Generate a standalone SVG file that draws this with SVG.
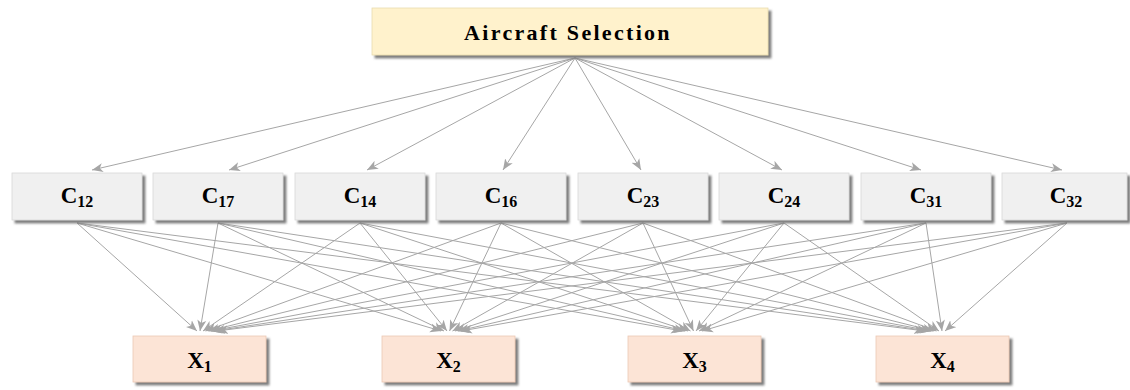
<svg xmlns="http://www.w3.org/2000/svg" width="1130" height="390" viewBox="0 0 1130 390">
<defs>
<filter id="sh" x="-5%" y="-10%" width="115%" height="130%">
<feDropShadow dx="3" dy="3" stdDeviation="0.8" flood-color="#707070" flood-opacity="0.9"/>
</filter>
<marker id="ah" markerUnits="userSpaceOnUse" markerWidth="12" markerHeight="10" viewBox="0 0 12 10" refX="11" refY="5" orient="auto">
<path d="M0,0.5 L11,5 L0,9.5 L3,5 Z" fill="#a6a6a6"/>
</marker>
<style>
.top{fill:#fff2cc;stroke:#e8dcb0;stroke-width:0.8;filter:url(#sh)}
.cb{fill:#f0f0f0;stroke:#d8d8d8;stroke-width:0.8;filter:url(#sh)}
.xb{fill:#fce4d6;stroke:#ecc9b4;stroke-width:0.8;filter:url(#sh)}
.t{font-family:"Liberation Serif","Times New Roman",serif;font-weight:bold;fill:#000}
.lbl{font-size:23px}
.sub{font-size:16px}
.c line{stroke:#a6a6a6;stroke-width:1;marker-end:url(#ah)}
</style>
</defs>
<g id="connectors" class="c">
<line x1="575" y1="58" x2="92" y2="170"/>
<line x1="575" y1="58" x2="229" y2="170"/>
<line x1="575" y1="58" x2="367" y2="170"/>
<line x1="575" y1="58" x2="503" y2="170"/>
<line x1="575" y1="58" x2="641" y2="170"/>
<line x1="575" y1="58" x2="782" y2="170"/>
<line x1="575" y1="58" x2="921" y2="170"/>
<line x1="575" y1="58" x2="1062" y2="170"/>

<line x1="77" y1="223" x2="197" y2="331"/>
<line x1="77" y1="223" x2="441" y2="331"/>
<line x1="77" y1="223" x2="682" y2="331"/>
<line x1="77" y1="223" x2="925" y2="331"/>
<line x1="218" y1="223" x2="200" y2="331"/>
<line x1="218" y1="223" x2="444" y2="331"/>
<line x1="218" y1="223" x2="685" y2="331"/>
<line x1="218" y1="223" x2="928" y2="331"/>
<line x1="360" y1="223" x2="203" y2="331"/>
<line x1="360" y1="223" x2="447" y2="331"/>
<line x1="360" y1="223" x2="688" y2="331"/>
<line x1="360" y1="223" x2="931" y2="331"/>
<line x1="501" y1="223" x2="205.5" y2="331"/>
<line x1="501" y1="223" x2="449.5" y2="331"/>
<line x1="501" y1="223" x2="690.5" y2="331"/>
<line x1="501" y1="223" x2="933.5" y2="331"/>
<line x1="643" y1="223" x2="208.5" y2="331"/>
<line x1="643" y1="223" x2="452.5" y2="331"/>
<line x1="643" y1="223" x2="693.5" y2="331"/>
<line x1="643" y1="223" x2="936.5" y2="331"/>
<line x1="784" y1="223" x2="211" y2="331"/>
<line x1="784" y1="223" x2="455" y2="331"/>
<line x1="784" y1="223" x2="696" y2="331"/>
<line x1="784" y1="223" x2="939" y2="331"/>
<line x1="926" y1="223" x2="214" y2="331"/>
<line x1="926" y1="223" x2="458" y2="331"/>
<line x1="926" y1="223" x2="699" y2="331"/>
<line x1="926" y1="223" x2="942" y2="331"/>
<line x1="1067" y1="223" x2="217" y2="331"/>
<line x1="1067" y1="223" x2="461" y2="331"/>
<line x1="1067" y1="223" x2="702" y2="331"/>
<line x1="1067" y1="223" x2="945" y2="331"/>
</g>

<g id="aircraft-selection">
<rect class="top" x="372" y="8" width="396" height="47"/>
<text class="t" x="568" y="40" font-size="22" letter-spacing="2.3" text-anchor="middle">Aircraft Selection</text>
</g>

<g id="C12"><rect class="cb" x="12" y="173" width="130" height="47"/><text class="t" x="77" y="203" text-anchor="middle"><tspan class="lbl">C</tspan><tspan class="sub" dy="4">12</tspan></text></g>
<g id="C17"><rect class="cb" x="153" y="173" width="130" height="47"/><text class="t" x="218" y="203" text-anchor="middle"><tspan class="lbl">C</tspan><tspan class="sub" dy="4">17</tspan></text></g>
<g id="C14"><rect class="cb" x="295" y="173" width="130" height="47"/><text class="t" x="360" y="203" text-anchor="middle"><tspan class="lbl">C</tspan><tspan class="sub" dy="4">14</tspan></text></g>
<g id="C16"><rect class="cb" x="436" y="173" width="130" height="47"/><text class="t" x="501" y="203" text-anchor="middle"><tspan class="lbl">C</tspan><tspan class="sub" dy="4">16</tspan></text></g>
<g id="C23"><rect class="cb" x="578" y="173" width="130" height="47"/><text class="t" x="643" y="203" text-anchor="middle"><tspan class="lbl">C</tspan><tspan class="sub" dy="4">23</tspan></text></g>
<g id="C24"><rect class="cb" x="719" y="173" width="130" height="47"/><text class="t" x="784" y="203" text-anchor="middle"><tspan class="lbl">C</tspan><tspan class="sub" dy="4">24</tspan></text></g>
<g id="C31"><rect class="cb" x="861" y="173" width="130" height="47"/><text class="t" x="926" y="203" text-anchor="middle"><tspan class="lbl">C</tspan><tspan class="sub" dy="4">31</tspan></text></g>
<g id="C32"><rect class="cb" x="1002" y="173" width="125" height="47"/><text class="t" x="1066" y="203" text-anchor="middle"><tspan class="lbl">C</tspan><tspan class="sub" dy="4">32</tspan></text></g>

<g id="X1"><rect class="xb" x="133" y="336" width="133" height="46"/><text class="t" x="199.5" y="368" text-anchor="middle"><tspan class="lbl">X</tspan><tspan class="sub" dy="4">1</tspan></text></g>
<g id="X2"><rect class="xb" x="382" y="336" width="133" height="46"/><text class="t" x="448.5" y="368" text-anchor="middle"><tspan class="lbl">X</tspan><tspan class="sub" dy="4">2</tspan></text></g>
<g id="X3"><rect class="xb" x="628" y="336" width="133" height="46"/><text class="t" x="694.5" y="368" text-anchor="middle"><tspan class="lbl">X</tspan><tspan class="sub" dy="4">3</tspan></text></g>
<g id="X4"><rect class="xb" x="876" y="336" width="133" height="46"/><text class="t" x="942.5" y="368" text-anchor="middle"><tspan class="lbl">X</tspan><tspan class="sub" dy="4">4</tspan></text></g>
</svg>
